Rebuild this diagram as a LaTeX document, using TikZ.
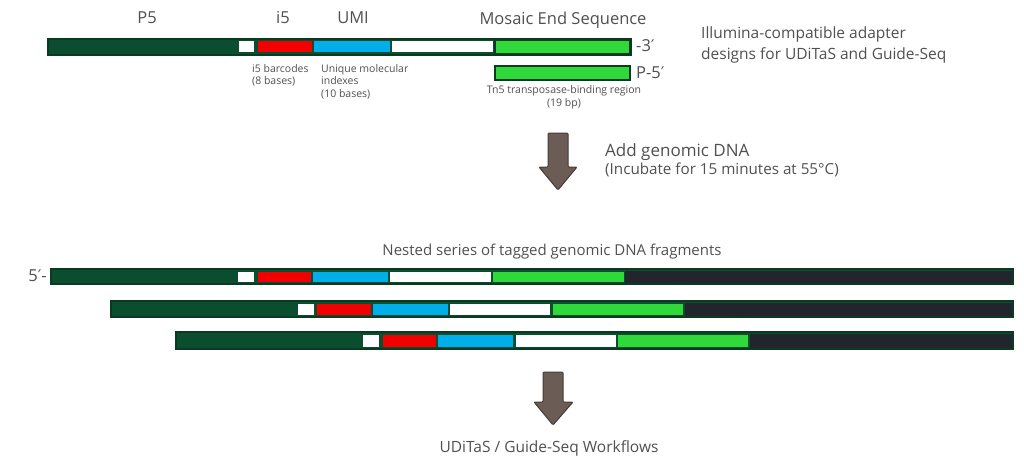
\documentclass[tikz,border=0pt]{standalone}
\usepackage{fontspec}
\setmainfont{Open Sans}
\newfontfamily\dejavu{DejaVu Sans}
\usetikzlibrary{fit}
\definecolor{dkgreen}{HTML}{0B4D2F}
\definecolor{dkline}{HTML}{0A3A22}
\definecolor{segred}{HTML}{F20000}
\definecolor{segblue}{HTML}{00AEEA}
\definecolor{seggreen}{HTML}{30D93A}
\definecolor{segblack}{HTML}{22262C}
\definecolor{txt}{HTML}{505050}
\definecolor{arrfill}{HTML}{6B5C56}
\definecolor{arrline}{HTML}{463B36}
\newcommand{\Seg}[6]{\node[fit={(#2,#3)(#4,#5)}, inner sep=0pt, #6] (#1) {};}
\tikzset{
  outer/.style={fill=dkgreen, draw=dkline, line width=1.2pt},
  wseg/.style={fill=white, draw=none},
  rseg/.style={fill=segred, draw=none},
  bseg/.style={fill=segblue, draw=none},
  gseg/.style={fill=seggreen, draw=none},
  kseg/.style={fill=segblack, draw=none},
  gbar/.style={fill=seggreen, draw=dkline, line width=2pt},
  lbl/.style={text=txt, inner sep=0pt, font=\fontsize{16.5}{20}\selectfont},
  small/.style={text=txt, inner sep=0pt, align=left, font=\fontsize{10.5}{12.5}\selectfont},
  mid/.style={text=txt, inner sep=0pt, align=left, font=\fontsize{15.5}{20.5}\selectfont},
  blockarrow/.style={fill=arrfill, draw=arrline, line width=1pt, rounded corners=1pt},
}
\begin{document}
\begin{tikzpicture}[x=1pt,y=-1pt]
\useasboundingbox (0,0) rectangle (1024,468);
% top adapter
\Seg{a0}{48}{39}{631}{55}{outer}
\Seg{a1}{239}{41.5}{254}{52.5}{wseg}
\Seg{a2}{258}{41.5}{312}{52.5}{rseg}
\Seg{a3}{314}{41.5}{390}{52.5}{bseg}
\Seg{a4}{392}{41.5}{493}{52.5}{wseg}
\Seg{a5}{495}{40}{630}{54}{gbar}
\Seg{b0}{495}{66}{630}{80.5}{gbar}
\node[lbl] (tP5) at (147,18) {P5};
\node[lbl] (ti5) at (283,18) {i5};
\node[lbl] (tUMI) at (353,18) {UMI};
\node[lbl] (tME) at (563,20) {Mosaic End Sequence};
\node[lbl, anchor=west] (t3) at (636,46) {-3{\dejavu\fontsize{16}{20}\selectfont ′}};
\node[lbl, anchor=west] (t5) at (636,73) {P-5{\dejavu\fontsize{16}{20}\selectfont ′}};
\node[small, anchor=north west] (tbc) at (252,64) {i5 barcodes\\(8 bases)};
\node[small, anchor=north west] (tumi) at (321,64) {Unique molecular\\indexes\\(10 bases)};
\node[small, align=center, anchor=north] (ttn5) at (564,85.5) {Tn5 transposase-binding region\\(19 bp)};
\node[mid, anchor=north west] (tillu) at (701,27) {Illumina-compatible adapter\\designs for UDiTaS and Guide-Seq};
% arrow 1
\draw[blockarrow] (548,133) -- (568,133) -- (568,167) -- (577,167) -- (558,190) -- (539,167) -- (548,167) -- cycle;
\node[text=txt, inner sep=0pt, anchor=base west, font=\fontsize{17}{20}\selectfont] (tadd) at (605,156) {Add genomic DNA};
\node[text=txt, inner sep=0pt, anchor=base west, font=\fontsize{15.2}{20}\selectfont] (tinc) at (605,174) {(Incubate for 15 minutes at 55°C)};
% nested fragments
\node[text=txt, inner sep=0pt, font=\fontsize{15}{17}\selectfont] (tnest) at (552,252) {Nested series of tagged genomic DNA fragments};
\node[lbl, anchor=east] (t5b) at (47,276) {5{\dejavu\fontsize{16}{20}\selectfont ′}-};
% row 1
\Seg{r10}{51}{269}{1013}{284}{outer}
\Seg{r11}{238}{271.5}{254}{281.5}{wseg}
\Seg{r12}{258}{271.5}{311}{281.5}{rseg}
\Seg{r13}{313}{271.5}{388}{281.5}{bseg}
\Seg{r14}{390}{271.5}{491}{281.5}{wseg}
\Seg{r15}{493}{271.5}{624}{281.5}{gseg}
\Seg{r16}{625}{270.5}{1012}{282.5}{kseg}
% row 2
\Seg{r20}{111}{301}{1013}{317}{outer}
\Seg{r21}{298}{303.5}{314}{314.5}{wseg}
\Seg{r22}{317}{303.5}{371}{314.5}{rseg}
\Seg{r23}{373}{303.5}{448}{314.5}{bseg}
\Seg{r24}{450}{303.5}{550}{314.5}{wseg}
\Seg{r25}{553}{303.5}{683}{314.5}{gseg}
\Seg{r26}{685}{302.5}{1012}{315.5}{kseg}
% row 3
\Seg{r30}{176}{332}{1013}{349}{outer}
\Seg{r31}{363}{334.5}{379}{346.5}{wseg}
\Seg{r32}{383}{334.5}{436}{346.5}{rseg}
\Seg{r33}{438}{334.5}{513}{346.5}{bseg}
\Seg{r34}{516}{334.5}{616}{346.5}{wseg}
\Seg{r35}{618}{334.5}{748}{346.5}{gseg}
\Seg{r36}{750}{333.5}{1012}{347.5}{kseg}
% arrow 2
\draw[blockarrow] (543,372) -- (563,372) -- (563,402) -- (573,402) -- (553,425) -- (534,402) -- (543,402) -- cycle;
\node[text=txt, inner sep=0pt, font=\fontsize{15.5}{18}\selectfont] (twf) at (549,448) {UDiTaS / Guide-Seq Workflows};
\end{tikzpicture}
\end{document}
